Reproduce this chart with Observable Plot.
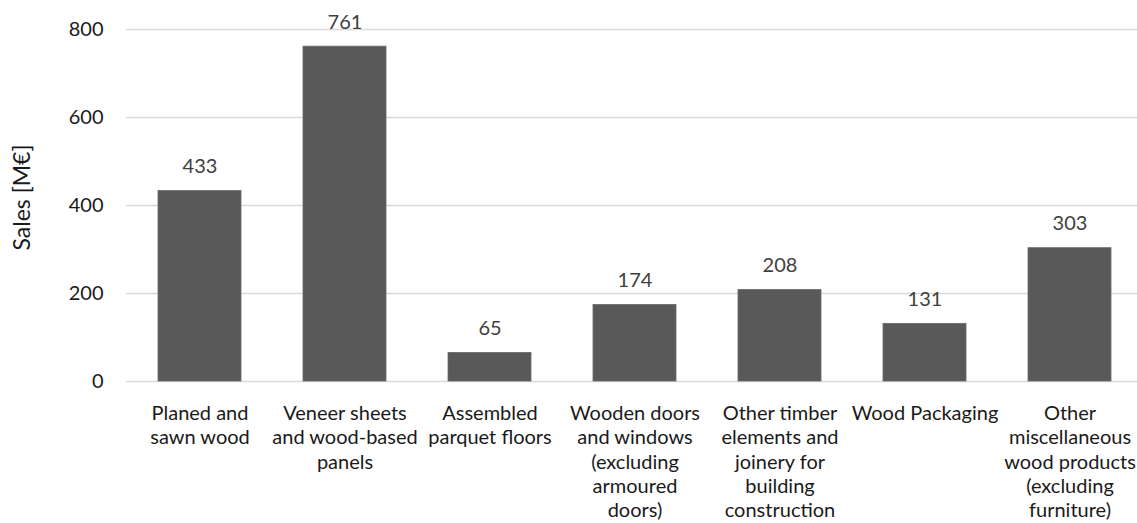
<!DOCTYPE html>
<html>
<head>
<meta charset="utf-8">
<script src="https://cdn.jsdelivr.net/npm/d3@7"></script>
<script src="https://cdn.jsdelivr.net/npm/@observablehq/plot@0.6"></script>
<style>
  html, body { margin: 0; padding: 0; background: #fff; }
  #chart { width: 1137px; height: 523px; overflow: hidden; }
</style>
</head>
<body>
<div id="chart"></div>
<script>
const categories = [
  "Planed and sawn wood",
  "Veneer sheets and wood-based panels",
  "Assembled parquet floors",
  "Wooden doors and windows (excluding armoured doors)",
  "Other timber elements and joinery for building construction",
  "Wood Packaging",
  "Other miscellaneous wood products (excluding furniture)"
];
const sales = [433, 761, 65, 174, 208, 131, 303];
const tickLabels = [
  "Planed and\nsawn wood",
  "Veneer sheets\nand wood-based\npanels",
  "Assembled\nparquet floors",
  "Wooden doors\nand windows\n(excluding\narmoured\ndoors)",
  "Other timber\nelements and\njoinery for\nbuilding\nconstruction",
  "Wood Packaging",
  "Other\nmiscellaneous\nwood products\n(excluding\nfurniture)"
];
const yTicks = [0, 200, 400, 600, 800];

const data = categories.map((c, i) => ({category: c, value: sales[i]}));
const labelOf = new Map(categories.map((c, i) => [c, tickLabels[i]]));

const FONT = "Lato, 'Open Sans', sans-serif";

const chart = Plot.plot({
  width: 1137,
  height: 523,
  marginTop: 29,
  marginBottom: 142,
  marginLeft: 126,
  marginRight: 0,
  style: {fontFamily: FONT, fontSize: "20px", color: "#1a1a1a", background: "#fff"},
  x: {domain: categories, range: [126, 1142], paddingInner: 0.428, paddingOuter: 0.214, align: 0.5},
  y: {domain: [0, 800], range: [381, 29]},
  marks: [
    Plot.ruleY(yTicks, {stroke: "#d9d9d9", strokeWidth: 1.5}),
    Plot.barY(data, {x: "category", y: "value", fill: "#595959", stroke: "#6a6a6a", strokeWidth: 0.8}),
    Plot.text(data, {
      x: "category", y: "value", text: d => String(d.value),
      lineAnchor: "bottom", dy: -18, fill: "#404040", fontSize: 20
    }),
    Plot.axisY(yTicks, {
      tickSize: 0, tickPadding: 23, label: null, fontSize: 20, fill: "#1a1a1a"
    }),
    Plot.text(["Sales [M€]"], {
      frameAnchor: "left", textAnchor: "middle", dx: -104, dy: -8, rotate: -90,
      fontSize: 23, fill: "#1a1a1a"
    }),
    Plot.axisX({
      tickSize: 0, tickPadding: 21, label: null, fontSize: 20, fill: "#1a1a1a",
      lineHeight: 1.22, tickFormat: d => labelOf.get(d), textOverflow: null
    })
  ]
});
document.getElementById("chart").appendChild(chart);
</script>
</body>
</html>
